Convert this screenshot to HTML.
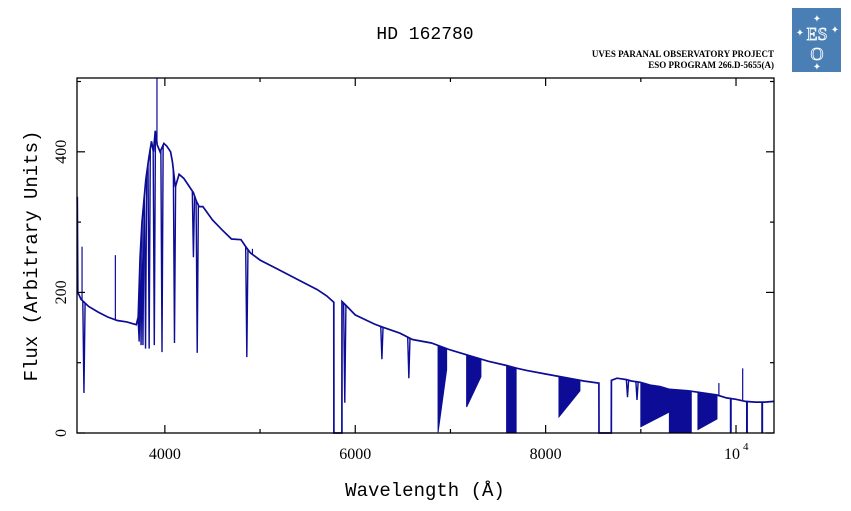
<!DOCTYPE html>
<html><head><meta charset="utf-8"><style>
html,body{margin:0;padding:0;background:#fff;}
svg{display:block;font-family:"Liberation Serif",serif;}
</style></head><body>
<svg id="chart" width="851" height="511" viewBox="0 0 851 511" xmlns="http://www.w3.org/2000/svg">
<text x="425" y="39" text-anchor="middle" font-size="18" font-family="Liberation Mono, monospace">HD 162780</text>
<text x="774" y="57" text-anchor="end" font-size="9" font-weight="bold">UVES PARANAL OBSERVATORY PROJECT</text>
<text x="774" y="68" text-anchor="end" font-size="9" font-weight="bold">ESO PROGRAM 266.D-5655(A)</text>
<g>
<rect x="792" y="8" width="49" height="64" fill="#4a7fb5"/>
<text x="817" y="40" text-anchor="middle" font-size="18" fill="none" stroke="#fff" stroke-width="0.8">ES</text>
<text x="817" y="60" text-anchor="middle" font-size="18" fill="none" stroke="#fff" stroke-width="0.8">O</text>
<text x="817" y="22" text-anchor="middle" font-size="10" fill="#fff">✦</text>
<text x="800" y="36" text-anchor="middle" font-size="10" fill="#fff">✦</text>
<text x="835" y="33" text-anchor="middle" font-size="10" fill="#fff">✦</text>
<text x="817" y="70" text-anchor="middle" font-size="10" fill="#fff">✦</text>
</g>
<g id="plot"></g>
<g id="axes"></g>
<text x="425" y="496" text-anchor="middle" font-size="19" font-family="Liberation Mono, monospace">Wavelength (Å)</text>
<text transform="translate(37,256) rotate(-90)" text-anchor="middle" font-size="19" font-family="Liberation Mono, monospace">Flux (Arbitrary Units)</text>
</svg>
<script>
// continuum (upper envelope) of the spectrum
const contWl = [3080,3085,3120,3200,3300,3400,3500,3600,3700,3720,3740,3760,3780,3800,3830,3860,3880,3900,3920,3950,3990,4020,4060,4080,4110,4150,4200,4250,4300,4330,4360,4400,4500,4600,4700,4800,4850,4900,5000,5200,5400,5600,5700,5775,5776,5860,5861,5900,6000,6200,6300,6470,6600,6800,7000,7200,7400,7590,7700,7800,8000,8200,8400,8560,8561,8690,8691,8750,8850,8900,9000,9100,9200,9300,9500,9600,9800,9900,10000,10100,10200,10300,10400];
const contFlux = [336,200,190,180,172,165,160,158,154,165,250,300,330,360,390,415,400,430,410,400,412,408,400,385,350,368,362,352,342,330,322,322,303,289,276,275,265,256,246,232,218,204,195,186,0,0,187,182,168,155,150,142,133,128,118,110,102,96,92,89,84,79,74,71,0,0,75,78,76,74,72,68,66,62,60,58,54,50,48,45,44,44,45];
// absorption line centres and minimum flux
const lineWl = [3150,3730,3750,3770,3797,3835,3889,3970,4101,4300,4340,4861,5890,6563,6280,8860,8960];
const lineMin = [57,130,125,125,120,120,125,115,128,250,114,108,43,78,105,51,47];
// emission spikes
const spikeWl = [3080,3130,3480,3917,4920,9820,10070];
const spikeMax = [336,265,253,520,262,71,92];
// telluric absorption bands: start, end, min flux at start, min flux at end
const bandStart = [6870,7170,7590,8140,9000,9300,9600,9940,10110,10270];
const bandEnd = [6960,7320,7690,8360,9300,9530,9800,9950,10120,10280];
const bandMinStart = [1,37,0,23,9,0,5,0,0,0];
const bandMinEnd = [90,80,0,60,30,0,20,0,0,0];

const L=77,R=774,T=78,B=433,X0=3077,X1=10399,Y0=0,Y1=505;
const sx=w=>L+(w-X0)/(X1-X0)*(R-L);
const sy=f=>B-(f-Y0)/(Y1-Y0)*(B-T);
const NS="http://www.w3.org/2000/svg";
const plot=document.getElementById('plot');
const axes=document.getElementById('axes');
const C="#0c0c96";
function cont(w){for(let i=1;i<contWl.length;i++){if(w<=contWl[i]){const a=contWl[i-1],b=contWl[i];const t=(w-a)/(b-a||1);return contFlux[i-1]+t*(contFlux[i]-contFlux[i-1]);}}return contFlux[contFlux.length-1];}
function mk(tag,attrs){const e=document.createElementNS(NS,tag);for(const k in attrs)e.setAttribute(k,attrs[k]);return e;}

// bands
for(let i=0;i<bandStart.length;i++){
  const pts=[];
  for(let w=bandStart[i];w<=bandEnd[i];w+=5)pts.push(sx(w)+','+sy(cont(w)));
  pts.push(sx(bandEnd[i])+','+sy(Math.min(bandMinEnd[i],cont(bandEnd[i]))));
  pts.push(sx(bandStart[i])+','+sy(bandMinStart[i]));
  const p=mk('polygon',{points:pts.join(' '),fill:C,stroke:C,'stroke-width':1});
  
  
  plot.appendChild(p);
}
// continuum line
const cp=contWl.map((w,i)=>sx(w).toFixed(1)+','+sy(contFlux[i]).toFixed(1)).join(' ');
const line=mk('polyline',{points:cp,fill:'none',stroke:C,'stroke-width':1.7});


plot.appendChild(line);
// absorption lines
for(let i=0;i<lineWl.length;i++){
  const w=lineWl[i],x=sx(w);
  const p=mk('polyline',{points:`${sx(w-12)},${sy(cont(w-12))} ${x},${sy(lineMin[i])} ${sx(w+12)},${sy(cont(w+12))}`,fill:'none',stroke:C,'stroke-width':1.4});
  
  
  plot.appendChild(p);
}
// spikes
for(let i=0;i<spikeWl.length;i++){
  const w=spikeWl[i],x=sx(w);
  const p=mk('line',{x1:x,x2:x,y1:sy(cont(w)),y2:Math.max(T,sy(spikeMax[i])),stroke:C,'stroke-width':1.2});
  
  
  plot.appendChild(p);
}
// frame
const fr=mk('rect',{x:L,y:T,width:R-L,height:B-T,fill:'none',stroke:'#000','stroke-width':1.3});


axes.appendChild(fr);
// ticks
for(let w=4000;w<=10000;w+=1000){
  const x=sx(w),len=(w%2000===0)?8:4;
  axes.appendChild(mk('line',{x1:x,x2:x,y1:B,y2:B-len,stroke:'#000','stroke-width':1.2}));
  axes.appendChild(mk('line',{x1:x,x2:x,y1:T,y2:T+len,stroke:'#000','stroke-width':1.2}));
}
for(let f=0;f<=500;f+=100){
  const y=sy(f),len=(f%200===0)?8:4;
  axes.appendChild(mk('line',{x1:L,x2:L+len,y1:y,y2:y,stroke:'#000','stroke-width':1.2}));
  axes.appendChild(mk('line',{x1:R,x2:R-len,y1:y,y2:y,stroke:'#000','stroke-width':1.2}));
}
const xt=[4000,6000,8000];
xt.forEach(w=>{const t=mk('text',{x:sx(w),y:459,'text-anchor':'middle','font-size':16});t.textContent=String(w);


axes.appendChild(t);});
const t4=mk('text',{x:sx(10000)-4,y:459,'text-anchor':'middle','font-size':16});t4.textContent='10';


axes.appendChild(t4);
const t4e=mk('text',{x:sx(10000)+7,y:450,'font-size':11});t4e.textContent='4';axes.appendChild(t4e);
const yt=[0,200,400];
yt.forEach(f=>{const t=mk('text',{transform:`translate(66,${sy(f)}) rotate(-90)`,'text-anchor':'middle','font-size':16});t.textContent=String(f);


axes.appendChild(t);});
</script>
</body></html>
